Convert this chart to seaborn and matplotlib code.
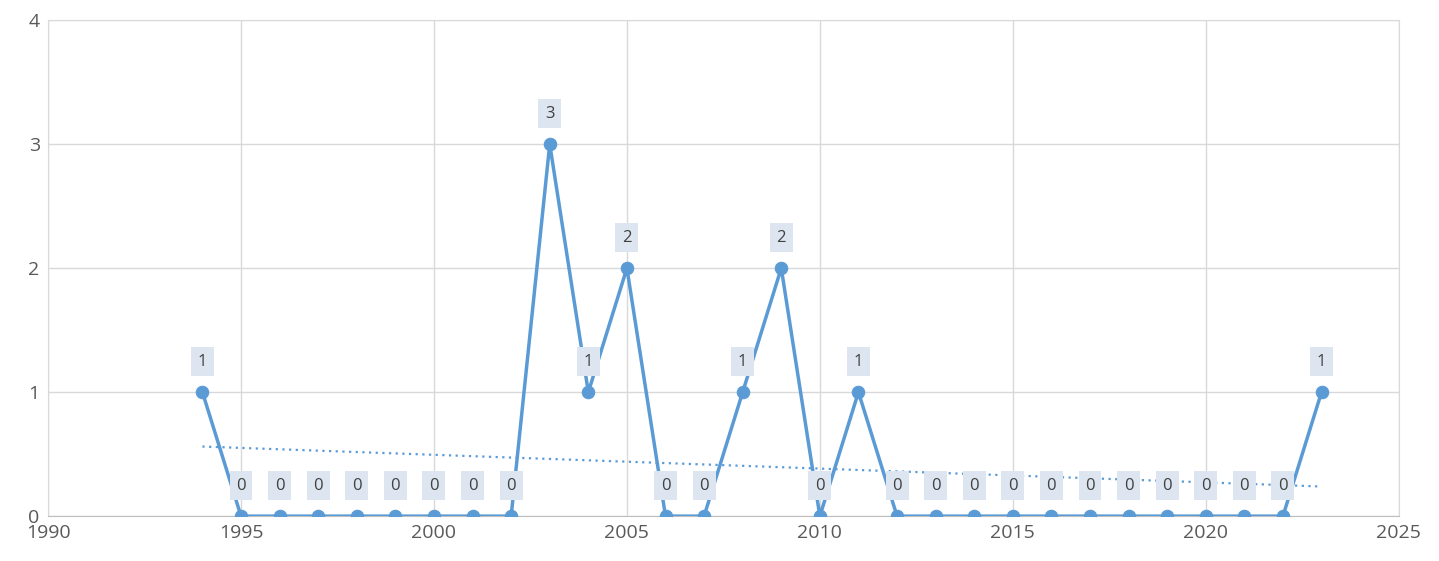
import numpy as np
import pandas as pd
import matplotlib.pyplot as plt
import seaborn as sns

# yearly counts
years = list(range(1994, 2024))
counts = [1, 0, 0, 0, 0, 0, 0, 0, 0, 3,
          1, 2, 0, 0, 1, 2, 0, 1, 0, 0,
          0, 0, 0, 0, 0, 0, 0, 0, 0, 1]
x_ticks = [1990, 1995, 2000, 2005, 2010, 2015, 2020, 2025]
y_ticks = [0, 1, 2, 3, 4]

df = pd.DataFrame({'year': years, 'count': counts})

sns.set_style('white')
plt.rcParams['font.family'] = ['Open Sans', 'DejaVu Sans']

fig = plt.figure(figsize=(14.39, 5.61), dpi=100)
ax = fig.add_axes([0.0334, 0.080, 0.9386, 0.884])

blue = '#5b9bd5'
sns.lineplot(data=df, x='year', y='count', color=blue, linewidth=2.5,
             marker='o', markersize=9, markeredgecolor=blue, ax=ax, zorder=3)

# linear trendline
slope, intercept = np.polyfit(df['year'], df['count'], 1)
trend = slope * df['year'] + intercept
ax.plot(df['year'], trend, color=blue, linestyle=(0, (1, 2)), linewidth=1.6, zorder=2)

# data labels in little boxes above each point
for x, y in zip(years, counts):
    ax.annotate(str(y), (x, y), xytext=(0, 22), textcoords='offset points',
                ha='center', va='center', fontsize=12, color='#404040',
                bbox=dict(boxstyle='square,pad=0.4', fc='#dde6f0', ec='none'),
                zorder=4)

ax.set_xlim(1990, 2025)
ax.set_ylim(0, 4)
ax.set_xticks(x_ticks)
ax.set_yticks(y_ticks)
ax.grid(True, color='#d9d9d9', linewidth=1)
ax.set_axisbelow(True)
for side in ['left', 'top', 'right']:
    ax.spines[side].set_color('#d9d9d9')
ax.spines['bottom'].set_color('#bfbfbf')
ax.tick_params(axis='both', length=0, labelsize=14, labelcolor='#595959', pad=6)
ax.set_xlabel('')
ax.set_ylabel('')

plt.savefig('out.png', dpi=100)
